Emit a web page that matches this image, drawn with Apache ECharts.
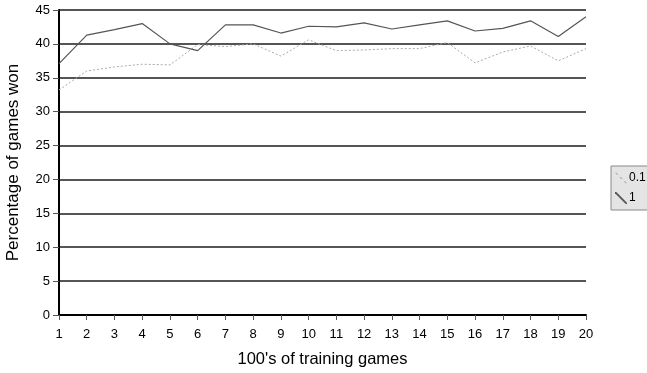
<!DOCTYPE html>
<html>
<head>
<meta charset="utf-8">
<script src="https://cdn.jsdelivr.net/npm/echarts@6/dist/echarts.min.js"></script>
<style>
  html, body { margin: 0; padding: 0; background: #fff; }
  #chart { width: 647px; height: 373px; }
</style>
</head>
<body>
<div id="chart"></div>
<script>
var games = ['1','2','3','4','5','6','7','8','9','10','11','12','13','14','15','16','17','18','19','20'];
var rate01 = [33.2, 36.0, 36.6, 37.0, 36.9, 39.9, 39.6, 40.0, 38.2, 40.6, 39.0, 39.1, 39.3, 39.3, 40.2, 37.2, 38.8, 39.7, 37.5, 39.3];
var rate1 = [37.1, 41.3, 42.1, 43.0, 40.0, 39.0, 42.8, 42.8, 41.6, 42.6, 42.5, 43.1, 42.2, 42.8, 43.4, 41.9, 42.3, 43.4, 41.1, 44.0];

var myChart = echarts.init(document.getElementById('chart'));

var option = {
    animation: false,
    textStyle: { fontFamily: 'Liberation Sans, Arial, sans-serif' },
    grid: { left: 59, right: 61, top: 10, bottom: 58, containLabel: false, outerBoundsMode: 'none' },
    legend: {
        orient: 'vertical',
        left: 611,
        top: 166,
        backgroundColor: '#e4e4e4',
        borderColor: '#888',
        borderWidth: 1,
        padding: [6, 4, 6, 4],
        itemGap: 8,
        itemWidth: 12,
        itemHeight: 12,
        textStyle: { fontSize: 12, color: '#000', padding: [0, 0, 0, -3] },
        data: [
            { name: '0.1', icon: 'path://M0,0L1.5,0L3.5,2L2,2Z M4.5,4.5L6,4.5L8,6.5L6.5,6.5Z M9,9L10.5,9L12.5,11L11,11Z' },
            { name: '1', icon: 'path://M0,0L1.3,0L12,10.7L12,12L10.7,12L0,1.3Z' }
        ]
    },
    xAxis: {
        type: 'category',
        data: games,
        boundaryGap: false,
        name: "100's of training games",
        nameLocation: 'middle',
        nameGap: 36,
        nameTextStyle: { fontSize: 16.5, color: '#000' },
        axisLine: { lineStyle: { color: '#000', width: 2 } },
        axisTick: { show: true, length: 5, lineStyle: { color: '#555' } },
        axisLabel: { fontSize: 13, color: '#000', margin: 13 },
        splitLine: { show: false }
    },
    yAxis: {
        type: 'value',
        min: 0,
        max: 45,
        interval: 5,
        name: 'Percentage of games won',
        nameLocation: 'middle',
        nameGap: 37,
        nameTextStyle: { fontSize: 17, color: '#000' },
        axisLine: { show: true, lineStyle: { color: '#000', width: 2 } },
        axisTick: { show: true, length: 6, lineStyle: { color: '#555' } },
        axisLabel: { fontSize: 13, color: '#000', margin: 9 },
        splitLine: { show: true, lineStyle: { color: '#555', width: 2 } }
    },
    series: [
        {
            name: '0.1',
            type: 'line',
            data: rate01,
            showSymbol: false,
            symbol: 'none',
            itemStyle: { color: '#aaa' },
            lineStyle: { color: '#aaa', width: 1, type: [2, 2] }
        },
        {
            name: '1',
            type: 'line',
            data: rate1,
            showSymbol: false,
            symbol: 'none',
            itemStyle: { color: '#555' },
            lineStyle: { color: '#555', width: 1.2 }
        }
    ]
};
myChart.setOption(option);
</script>
</body>
</html>
